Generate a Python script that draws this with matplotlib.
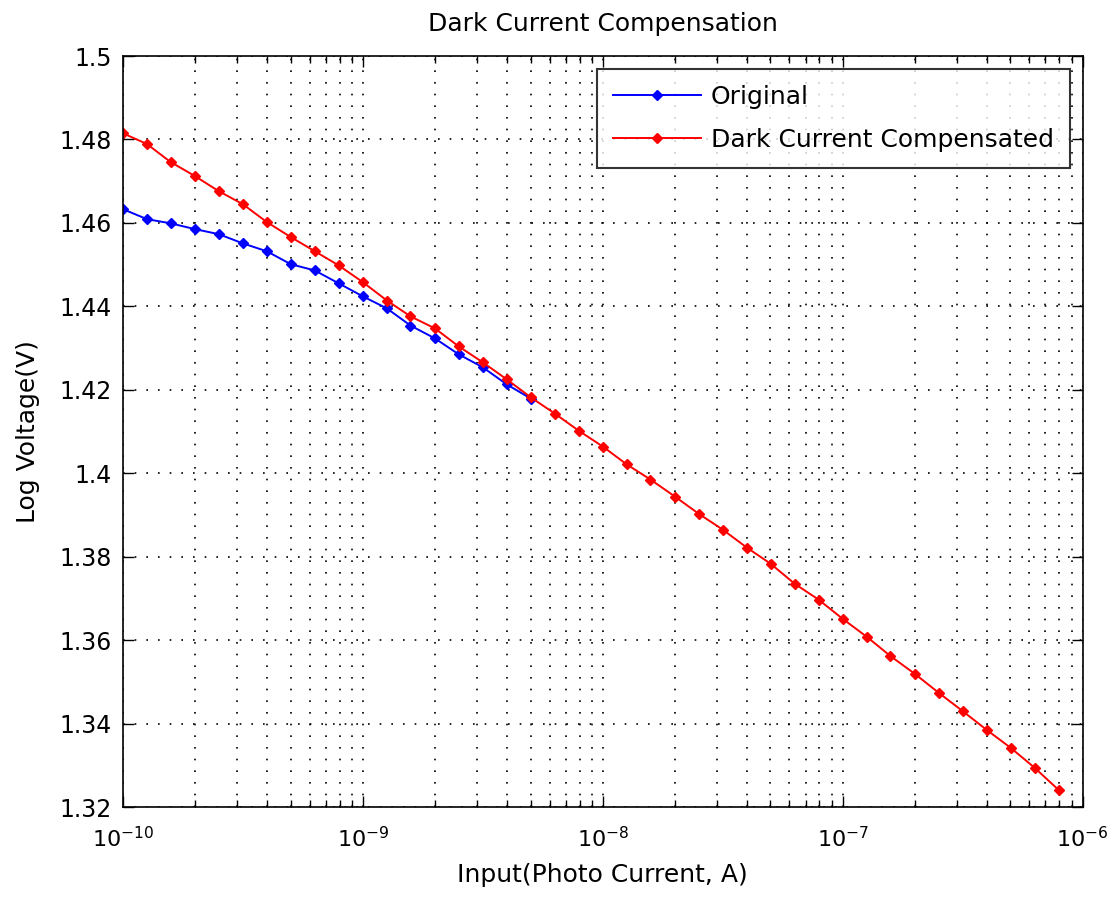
import numpy as np
import matplotlib
matplotlib.use("Agg")
import matplotlib.pyplot as plt
from matplotlib.ticker import LogLocator, FixedLocator, FuncFormatter, NullFormatter

plt.rcParams["font.family"] = ["DejaVu Sans"]
plt.rcParams["mathtext.default"] = "regular"
plt.rcParams["axes.unicode_minus"] = False

# photo current (A), 0.1-decade steps
current = [
    1.00e-10, 1.26e-10, 1.58e-10, 2.00e-10, 2.51e-10, 3.16e-10, 3.98e-10, 5.01e-10, 6.31e-10, 7.94e-10,
    1.00e-9, 1.26e-9, 1.58e-9, 2.00e-9, 2.51e-9, 3.16e-9, 3.98e-9, 5.01e-9, 6.31e-9, 7.94e-9,
    1.00e-8, 1.26e-8, 1.58e-8, 2.00e-8, 2.51e-8, 3.16e-8, 3.98e-8, 5.01e-8, 6.31e-8, 7.94e-8,
    1.00e-7, 1.26e-7, 1.58e-7, 2.00e-7, 2.51e-7, 3.16e-7, 3.98e-7, 5.01e-7, 6.31e-7, 7.94e-7,
]

# original output (only measured up to ~5e-9 A)
v_original = [
    1.4633, 1.4609, 1.4599, 1.4585, 1.4573, 1.4551, 1.4532, 1.4501, 1.4486, 1.4455,
    1.4424, 1.4395, 1.4354, 1.4323, 1.4285, 1.4254, 1.4213, 1.4179,
]

# dark current compensated
v_compensated = [
    1.4815, 1.4789, 1.4746, 1.4712, 1.4676, 1.4645, 1.4602, 1.4566, 1.4532, 1.4498,
    1.4458, 1.4414, 1.4376, 1.4347, 1.4304, 1.4266, 1.4225, 1.4182, 1.4143, 1.4102,
    1.4064, 1.4021, 1.3985, 1.3944, 1.3903, 1.3865, 1.3822, 1.3783, 1.3735, 1.3697,
    1.3651, 1.3608, 1.3562, 1.3519, 1.3474, 1.3430, 1.3385, 1.3342, 1.3294, 1.3241,
]

y_ticks = [1.32, 1.34, 1.36, 1.38, 1.40, 1.42, 1.44, 1.46, 1.48, 1.50]

fig = plt.figure(figsize=(11.07, 8.99), dpi=100)
ax = fig.add_axes([0.111, 0.1023, 0.867, 0.8354])

ax.plot(current[:len(v_original)], v_original, color="blue", marker="D",
        markersize=5.5, linewidth=1.4, label="Original")
ax.plot(current, v_compensated, color="red", marker="D",
        markersize=5.5, linewidth=1.4, label="Dark Current Compensated")

ax.set_xscale("log")
ax.set_xlim(1e-10, 1e-6)
ax.set_ylim(1.32, 1.5)

ax.xaxis.set_major_locator(LogLocator(base=10, numticks=10))
ax.xaxis.set_major_formatter(FuncFormatter(lambda v, p: f"$10^{{{int(round(np.log10(v)))}}}$"))
ax.xaxis.set_minor_locator(LogLocator(base=10, subs=np.arange(2, 10), numticks=20))
ax.xaxis.set_minor_formatter(NullFormatter())
ax.yaxis.set_major_locator(FixedLocator(y_ticks))
ax.yaxis.set_major_formatter(FuncFormatter(lambda v, p: f"{v:g}"))

dots = (0, (1, 6))
ax.grid(True, which="major", axis="both", color="black", linestyle=dots, linewidth=1.2)
ax.grid(True, which="minor", axis="x", color="black", linestyle=dots, linewidth=1.2)

ax.tick_params(which="both", direction="in", top=True, right=True)
ax.tick_params(axis="x", which="both", pad=14, labelsize=16)
ax.tick_params(axis="y", which="both", pad=8, labelsize=17)
ax.tick_params(which="major", length=8, width=1)
ax.tick_params(which="minor", length=5, width=1)
for s in ax.spines.values():
    s.set_linewidth(1.2)

ax.set_title("Dark Current Compensation", fontsize=18, pad=18)
ax.set_xlabel("Input(Photo Current, A)", fontsize=18, labelpad=8)
ax.set_ylabel("Log Voltage(V)", fontsize=18, labelpad=14)

leg = ax.legend(loc="upper right", fontsize=18, frameon=True, fancybox=False,
                edgecolor="black", borderaxespad=0.5, handlelength=3.5,
                handletextpad=0.4, labelspacing=0.75, borderpad=0.65)
leg.get_frame().set_linewidth(1.5)

fig.savefig("out.png", dpi=100)
